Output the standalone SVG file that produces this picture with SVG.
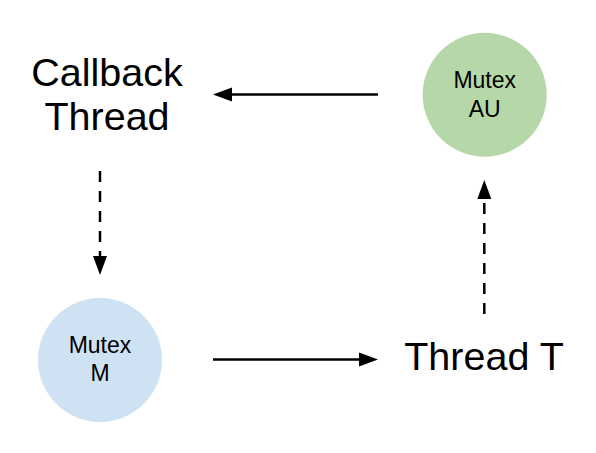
<svg xmlns="http://www.w3.org/2000/svg" width="596" height="453" viewBox="0 0 596 453">
<style>
.big{font-family:"Liberation Sans",Arial,sans-serif;font-size:39.5px;fill:#000;text-anchor:middle}
.small{font-family:"Liberation Sans",Arial,sans-serif;font-size:23px;fill:#000;text-anchor:middle}
.edge{stroke:#000;stroke-width:2.5;fill:none}
.dash{stroke-dasharray:11 9}
</style>
<defs>
<marker id="ah" markerUnits="userSpaceOnUse" markerWidth="20" markerHeight="16" refX="0" refY="7" orient="auto" viewBox="0 0 20 14">
<path d="M0,0 L19,7 L0,14 Z" fill="#000"/>
</marker>
</defs>
<rect width="596" height="453" fill="#fff"/>
<g id="edges">
<path class="edge" d="M378,94.5 L232,94.5" marker-end="url(#ah)"/>
<path class="edge" d="M213,359.6 L359,359.6" marker-end="url(#ah)"/>
<path class="edge dash" d="M100,171 L100,256" marker-end="url(#ah)"/>
<path class="edge dash" d="M484.3,314 L484.3,199" marker-end="url(#ah)"/>
</g>
<g id="callback-thread">
<text class="big" x="107" y="86">Callback</text>
<text class="big" x="107" y="130">Thread</text>
</g>
<g id="mutex-au">
<circle cx="484.7" cy="94.7" r="62" fill="#b6d7a8"/>
<text class="small" x="484.7" y="88">Mutex</text>
<text class="small" x="484.7" y="117">AU</text>
</g>
<g id="mutex-m">
<circle cx="100" cy="360" r="62" fill="#cfe2f3"/>
<text class="small" x="100" y="353">Mutex</text>
<text class="small" x="100" y="380.5">M</text>
</g>
<g id="thread-t">
<text class="big" x="484" y="370">Thread T</text>
</g>
</svg>
